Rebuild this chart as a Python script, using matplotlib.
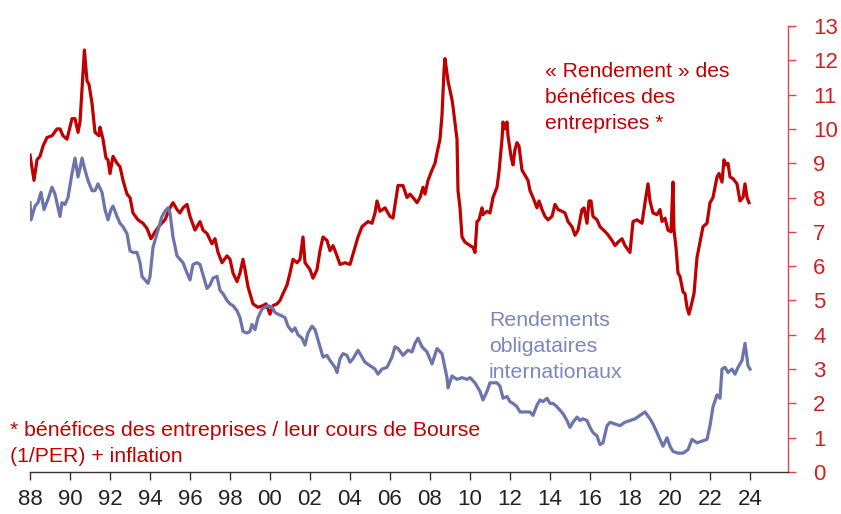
import numpy as np
import matplotlib.pyplot as plt

plt.rcParams['font.family'] = ['Liberation Sans', 'DejaVu Sans']

# "rendement" des benefices des entreprises (1/PER + inflation), %
red_years = [1988.00, 1988.20, 1988.35, 1988.50, 1988.65, 1988.85, 1989.10, 1989.35, 1989.50, 1989.65,
             1989.85, 1990.10, 1990.25, 1990.40, 1990.50, 1990.72, 1990.85, 1990.95, 1991.10, 1991.25,
             1991.45, 1991.50, 1991.65, 1991.80, 1991.90, 1992.00, 1992.15, 1992.35, 1992.50, 1992.65,
             1992.85, 1993.00, 1993.15, 1993.40, 1993.65, 1993.85, 1994.05, 1994.25, 1994.50, 1994.75,
             1995.00, 1995.15, 1995.35, 1995.50, 1995.65, 1995.85, 1996.00, 1996.25, 1996.50, 1996.65,
             1996.85, 1997.10, 1997.25, 1997.40, 1997.60, 1997.85, 1998.00, 1998.15, 1998.35, 1998.50,
             1998.65, 1998.75, 1998.90, 1999.15, 1999.40, 1999.65, 1999.80, 2000.00, 2000.15, 2000.35,
             2000.50, 2000.65, 2000.85, 2001.00, 2001.15, 2001.35, 2001.50, 2001.65, 2001.75, 2002.00,
             2002.15, 2002.35, 2002.50, 2002.65, 2002.85, 2003.00, 2003.15, 2003.35, 2003.50, 2003.75,
             2004.00, 2004.25, 2004.40, 2004.60, 2004.90, 2005.10, 2005.25, 2005.35, 2005.50, 2005.75,
             2006.00, 2006.15, 2006.40, 2006.65, 2006.85, 2007.00, 2007.15, 2007.35, 2007.50, 2007.65,
             2007.75, 2007.90, 2008.10, 2008.25, 2008.35, 2008.50, 2008.60, 2008.70, 2008.75, 2008.90,
             2009.10, 2009.15, 2009.35, 2009.40, 2009.50, 2009.60, 2009.75, 2010.00, 2010.15, 2010.25,
             2010.35, 2010.45, 2010.60, 2010.65, 2010.85, 2011.00, 2011.15, 2011.35, 2011.45, 2011.60,
             2011.65, 2011.75, 2011.85, 2011.90, 2012.05, 2012.15, 2012.25, 2012.35, 2012.45, 2012.60,
             2012.75, 2012.90, 2013.00, 2013.15, 2013.35, 2013.45, 2013.60, 2013.75, 2013.90, 2014.10,
             2014.25, 2014.40, 2014.60, 2014.75, 2014.90, 2015.10, 2015.25, 2015.40, 2015.60, 2015.70,
             2015.85, 2015.95, 2016.05, 2016.15, 2016.35, 2016.50, 2016.85, 2017.10, 2017.25, 2017.40,
             2017.60, 2017.75, 2018.00, 2018.15, 2018.35, 2018.60, 2018.75, 2018.90, 2019.00, 2019.15,
             2019.35, 2019.50, 2019.60, 2019.75, 2019.90, 2020.05, 2020.15, 2020.20, 2020.30, 2020.40,
             2020.50, 2020.65, 2020.75, 2020.85, 2020.95, 2021.10, 2021.20, 2021.35, 2021.45, 2021.65,
             2021.85, 2022.00, 2022.15, 2022.35, 2022.45, 2022.60, 2022.70, 2022.80, 2022.90, 2023.00,
             2023.15, 2023.35, 2023.50, 2023.65, 2023.75, 2023.85, 2023.95]
red_vals = [9.24, 8.5, 9.1, 9.2, 9.5, 9.75, 9.8, 10.0, 10.0, 9.8,
            9.7, 10.3, 10.3, 9.9, 10.2, 12.3, 11.4, 11.3, 10.75, 9.9,
            9.8, 10.05, 9.7, 9.15, 9.1, 8.7, 9.2, 9.0, 8.9, 8.5,
            8.1, 8.0, 7.55, 7.35, 7.25, 7.1, 6.8, 7.0, 7.2, 7.35,
            7.7, 7.85, 7.65, 7.55, 7.7, 7.8, 7.45, 7.05, 7.3, 7.05,
            6.95, 6.65, 6.8, 6.4, 6.1, 6.3, 6.2, 5.8, 5.55, 5.8,
            6.2, 5.9, 5.4, 4.9, 4.8, 4.85, 4.9, 4.6, 4.85, 4.9,
            5.0, 5.2, 5.45, 5.8, 6.2, 6.1, 6.2, 6.85, 6.1, 5.9,
            5.65, 5.9, 6.45, 6.85, 6.75, 6.45, 6.6, 6.3, 6.05, 6.1,
            6.05, 6.55, 6.85, 7.15, 7.3, 7.25, 7.55, 7.9, 7.6, 7.7,
            7.45, 7.4, 8.35, 8.35, 8.0, 8.1, 8.0, 7.85, 8.0, 8.3,
            8.1, 8.5, 8.8, 9.0, 9.3, 9.7, 10.4, 11.7, 12.05, 11.4,
            10.85, 10.65, 9.7, 8.2, 7.7, 6.85, 6.7, 6.6, 6.55, 6.4,
            7.3, 7.35, 7.7, 7.5, 7.6, 7.55, 8.0, 8.3, 8.75, 9.7,
            10.2, 10.0, 10.2, 9.8, 9.2, 8.95, 9.4, 9.6, 9.5, 8.8,
            8.65, 8.5, 8.2, 8.0, 7.7, 7.9, 7.65, 7.45, 7.35, 7.45,
            7.8, 7.65, 7.6, 7.55, 7.3, 7.15, 6.9, 7.05, 7.65, 7.7,
            7.25, 7.9, 7.9, 7.45, 7.35, 7.15, 6.95, 6.75, 6.6, 6.7,
            6.8, 6.6, 6.4, 7.3, 7.35, 7.25, 7.85, 8.4, 7.9, 7.55,
            7.5, 7.65, 7.3, 7.4, 7.05, 7.0, 8.45, 7.05, 6.55, 5.8,
            5.7, 5.25, 5.2, 4.8, 4.6, 4.95, 5.2, 6.25, 6.55, 7.15,
            7.25, 7.85, 8.0, 8.6, 8.7, 8.45, 9.1, 8.95, 9.0, 8.6,
            8.55, 8.4, 7.9, 8.0, 8.4, 8.0, 7.85]

# rendements obligataires internationaux, %
blue_years = [1988.00, 1988.05, 1988.25, 1988.40, 1988.55, 1988.70, 1988.90, 1989.10, 1989.25, 1989.50,
              1989.60, 1989.75, 1989.90, 1990.10, 1990.25, 1990.40, 1990.50, 1990.60, 1990.75, 1990.90,
              1991.10, 1991.25, 1991.40, 1991.60, 1991.75, 1991.90, 1992.05, 1992.15, 1992.35, 1992.50,
              1992.65, 1992.85, 1993.00, 1993.15, 1993.35, 1993.50, 1993.60, 1993.75, 1993.90, 1994.00,
              1994.15, 1994.35, 1994.60, 1994.75, 1994.90, 1995.00, 1995.15, 1995.35, 1995.50, 1995.65,
              1995.85, 1996.00, 1996.15, 1996.35, 1996.50, 1996.65, 1996.85, 1997.00, 1997.15, 1997.35,
              1997.50, 1997.65, 1997.85, 1998.00, 1998.15, 1998.35, 1998.50, 1998.65, 1998.85, 1999.00,
              1999.10, 1999.25, 1999.40, 1999.60, 1999.75, 1999.90, 2000.10, 2000.25, 2000.40, 2000.60,
              2000.75, 2000.90, 2001.10, 2001.25, 2001.40, 2001.60, 2001.75, 2001.90, 2002.10, 2002.25,
              2002.40, 2002.65, 2002.85, 2003.00, 2003.25, 2003.35, 2003.50, 2003.65, 2003.85, 2004.00,
              2004.15, 2004.40, 2004.60, 2004.75, 2005.00, 2005.25, 2005.40, 2005.60, 2005.85, 2006.10,
              2006.25, 2006.40, 2006.65, 2006.90, 2007.10, 2007.25, 2007.40, 2007.60, 2007.85, 2008.10,
              2008.35, 2008.60, 2008.85, 2008.90, 2009.10, 2009.35, 2009.60, 2009.85, 2010.00, 2010.25,
              2010.50, 2010.65, 2010.85, 2011.00, 2011.15, 2011.35, 2011.50, 2011.65, 2011.85, 2012.00,
              2012.15, 2012.35, 2012.50, 2012.75, 2013.00, 2013.15, 2013.35, 2013.50, 2013.65, 2013.85,
              2014.00, 2014.15, 2014.35, 2014.50, 2014.65, 2014.85, 2015.00, 2015.15, 2015.35, 2015.50,
              2015.65, 2015.85, 2016.00, 2016.15, 2016.35, 2016.50, 2016.65, 2016.85, 2017.00, 2017.25,
              2017.50, 2017.75, 2018.00, 2018.25, 2018.50, 2018.75, 2019.00, 2019.15, 2019.35, 2019.50,
              2019.65, 2019.85, 2020.00, 2020.15, 2020.40, 2020.65, 2020.90, 2021.10, 2021.35, 2021.60,
              2021.85, 2022.00, 2022.15, 2022.35, 2022.50, 2022.60, 2022.75, 2022.90, 2023.10, 2023.25,
              2023.40, 2023.60, 2023.75, 2023.90, 2024.00]
blue_vals = [7.85, 7.35, 7.75, 7.85, 8.15, 7.65, 7.95, 8.3, 8.1, 7.45,
             7.85, 7.8, 8.0, 8.7, 9.15, 8.6, 8.85, 9.15, 8.8, 8.5,
             8.2, 8.2, 8.4, 8.15, 7.65, 7.35, 7.65, 7.75, 7.45, 7.25,
             7.15, 6.95, 6.45, 6.4, 6.4, 6.1, 5.7, 5.6, 5.5, 5.7,
             6.55, 6.95, 7.45, 7.6, 7.7, 7.55, 6.85, 6.3, 6.2, 6.1,
             5.8, 5.6, 6.05, 6.1, 6.05, 5.75, 5.35, 5.45, 5.65, 5.7,
             5.3, 5.2, 5.0, 4.9, 4.85, 4.7, 4.5, 4.1, 4.05, 4.1,
             4.3, 4.15, 4.5, 4.75, 4.8, 4.85, 4.8, 4.65, 4.6, 4.55,
             4.5, 4.25, 4.1, 4.2, 4.0, 3.9, 3.7, 4.05, 4.25, 4.15,
             3.85, 3.35, 3.4, 3.25, 3.05, 2.9, 3.3, 3.45, 3.4, 3.2,
             3.3, 3.55, 3.35, 3.2, 3.1, 3.0, 2.85, 3.0, 3.05, 3.35,
             3.65, 3.6, 3.4, 3.55, 3.5, 3.75, 3.9, 3.65, 3.5, 3.15,
             3.6, 3.45, 2.75, 2.45, 2.8, 2.7, 2.75, 2.7, 2.75, 2.6,
             2.35, 2.1, 2.35, 2.6, 2.6, 2.6, 2.5, 2.15, 2.2, 2.05,
             2.0, 1.9, 1.75, 1.75, 1.75, 1.65, 1.95, 2.1, 2.05, 2.15,
             2.0, 2.0, 1.9, 1.8, 1.7, 1.5, 1.3, 1.45, 1.6, 1.5,
             1.55, 1.5, 1.3, 1.15, 1.05, 0.8, 0.85, 1.35, 1.45, 1.4,
             1.35, 1.45, 1.5, 1.55, 1.65, 1.75, 1.55, 1.4, 1.15, 0.95,
             0.75, 1.0, 0.75, 0.6, 0.55, 0.55, 0.65, 0.95, 0.85, 0.9,
             0.95, 1.35, 1.9, 2.25, 2.15, 3.0, 3.05, 2.9, 3.0, 2.85,
             3.05, 3.25, 3.75, 3.1, 3.0]

year_ticks = list(range(1988, 2025, 2))
year_labels = ['%02d' % (y % 100) for y in year_ticks]
value_ticks = list(range(0, 14))

RED = '#C00000'
BLUE = '#6B74AC'

fig = plt.figure(figsize=(8.41, 5.14), dpi=100)
ax = fig.add_axes([30 / 841, 42 / 514, 758 / 841, 446 / 514])

ax.plot(red_years, red_vals, color=RED, lw=2.3, solid_joinstyle='round')
ax.plot(blue_years, blue_vals, color=BLUE, lw=2.3, solid_joinstyle='round')

ax.set_xlim(1988, 1988 + 758 / 20)
ax.set_ylim(0, 13)

# axes: only bottom (black) and right (red)
ax.spines['left'].set_visible(False)
ax.spines['top'].set_visible(False)
ax.spines['bottom'].set_color('#333333')
ax.spines['right'].set_color('#D84848')
ax.spines['bottom'].set_linewidth(1.0)
ax.spines['right'].set_linewidth(1.0)

ax.set_xticks(year_ticks)
ax.set_xticklabels(year_labels)
ax.tick_params(axis='x', direction='out', length=6, width=1, color='#333333',
               labelsize=16, labelcolor='#222222', pad=6.5)

ax.yaxis.tick_right()
ax.set_yticks(value_ticks)
ax.tick_params(axis='y', direction='out', length=6, width=1, color='#D84848',
               labelsize=16, labelcolor='#D02020', pad=12)
ax.tick_params(axis='y', left=False, labelleft=False)

ax.text(2013.75, 11.95, '« Rendement » des\nbénéfices des\nentreprises *', color=RED,
        fontsize=15.2, va='top', ha='left', linespacing=1.45)
ax.text(2010.95, 4.68, 'Rendements\nobligataires\ninternationaux', color='#7B86BE',
        fontsize=15.3, va='top', ha='left', linespacing=1.45)

fig.text(10 / 841, 1 - 421 / 514,
         '* bénéfices des entreprises / leur cours de Bourse\n(1/PER) + inflation',
         color=RED, fontsize=15.3, va='top', ha='left', linespacing=1.45)

fig.savefig('out.png', dpi=100)
